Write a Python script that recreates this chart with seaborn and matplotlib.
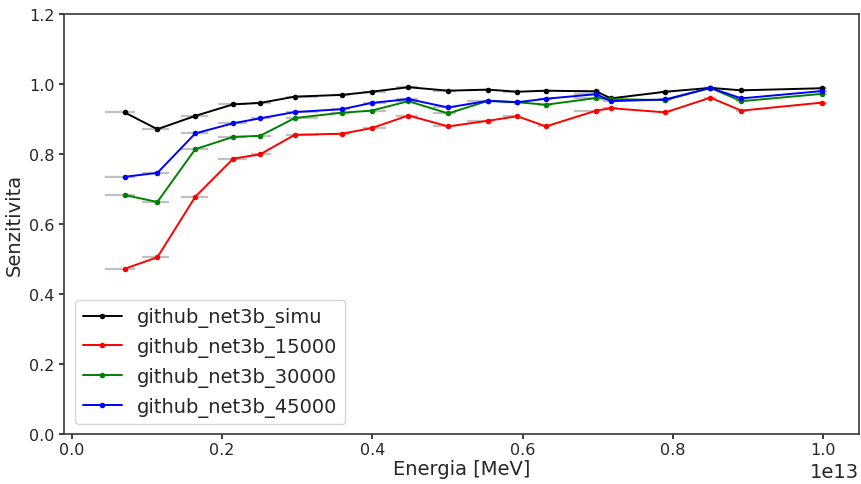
import numpy as np
import pandas as pd
import matplotlib
matplotlib.use("Agg")
import matplotlib.pyplot as plt
import seaborn as sns

# Energy bins (MeV): marker position plus lower / upper bin edges
energy = [0.0703e13, 0.114e13, 0.1645e13, 0.215e13, 0.2507e13, 0.297e13, 0.3594e13,
          0.399e13, 0.448e13, 0.501e13, 0.554e13, 0.593e13, 0.631e13, 0.698e13,
          0.7175e13, 0.790e13, 0.850e13, 0.891e13, 0.9987e13]
bin_low = [0.045e13, 0.094e13, 0.146e13, 0.195e13, 0.239e13, 0.285e13, 0.345e13,
           0.387e13, 0.432e13, 0.481e13, 0.526e13, 0.574e13, 0.621e13, 0.668e13,
           0.707e13, 0.782e13, 0.842e13, 0.884e13, 0.992e13]
bin_high = [0.084e13, 0.129e13, 0.182e13, 0.233e13, 0.265e13, 0.328e13, 0.371e13,
            0.418e13, 0.461e13, 0.511e13, 0.560e13, 0.597e13, 0.639e13, 0.703e13,
            0.727e13, 0.798e13, 0.857e13, 0.898e13, 1.005e13]

sens_simu = [0.919, 0.871, 0.909, 0.942, 0.946, 0.964, 0.969, 0.978, 0.991, 0.981,
             0.984, 0.978, 0.981, 0.979, 0.959, 0.978, 0.989, 0.982, 0.988]
sens_15000 = [0.472, 0.505, 0.678, 0.787, 0.799, 0.855, 0.858, 0.874, 0.910, 0.879,
              0.895, 0.908, 0.879, 0.924, 0.931, 0.919, 0.961, 0.924, 0.947]
sens_30000 = [0.683, 0.663, 0.814, 0.849, 0.852, 0.903, 0.918, 0.924, 0.951, 0.916,
              0.952, 0.948, 0.941, 0.960, 0.957, 0.954, 0.989, 0.951, 0.972]
sens_45000 = [0.735, 0.746, 0.859, 0.888, 0.902, 0.920, 0.928, 0.946, 0.957, 0.933,
              0.952, 0.948, 0.958, 0.971, 0.951, 0.956, 0.989, 0.959, 0.980]

series_names = ["github_net3b_simu", "github_net3b_15000",
                "github_net3b_30000", "github_net3b_45000"]
series_values = [sens_simu, sens_15000, sens_30000, sens_45000]
series_colors = ["black", "red", "green", "blue"]

df = pd.concat(
    [pd.DataFrame({"Energia": energy, "Senzitivita": vals, "model": name})
     for name, vals in zip(series_names, series_values)],
    ignore_index=True,
)

sns.set_theme(style="ticks", rc={
    "xtick.major.size": 3.5, "ytick.major.size": 3.5,
    "xtick.major.pad": 2.5, "ytick.major.pad": 3.0,
    "axes.edgecolor": "0.25",
})
plt.rcParams["font.family"] = ["DejaVu Sans"]

fig = plt.figure(figsize=(8.61, 4.85), dpi=100)
ax = fig.add_axes([0.074, 0.103, 0.924, 0.866])

e = np.array(energy)
xerr = [e - np.array(bin_low), np.array(bin_high) - e]
for vals in series_values:
    ax.errorbar(e, vals, xerr=xerr, fmt="none", ecolor="#c0c0c0",
                elinewidth=1.6, zorder=1)

sns.lineplot(data=df, x="Energia", y="Senzitivita", hue="model",
             hue_order=series_names, palette=series_colors,
             marker="o", markersize=4, markeredgewidth=0,
             linewidth=1.4, sort=False, estimator=None, ax=ax, zorder=3)

ax.set_xlim(-0.0106e13, 1.048e13)
ax.set_ylim(0, 1.2)
ax.set_yticks([0.0, 0.2, 0.4, 0.6, 0.8, 1.0, 1.2])
ax.set_xlabel("Energia [MeV]", fontsize=14, labelpad=1.5)
ax.set_ylabel("Senzitivita", fontsize=14, labelpad=4)
ax.tick_params(labelsize=11.5)
ax.xaxis.get_offset_text().set_fontsize(14)

leg = ax.legend(loc="lower left", fontsize=14, frameon=True,
                bbox_to_anchor=(0.002, 0.0))
leg.get_frame().set_edgecolor("#cccccc")

fig.savefig("out.png", dpi=100)
